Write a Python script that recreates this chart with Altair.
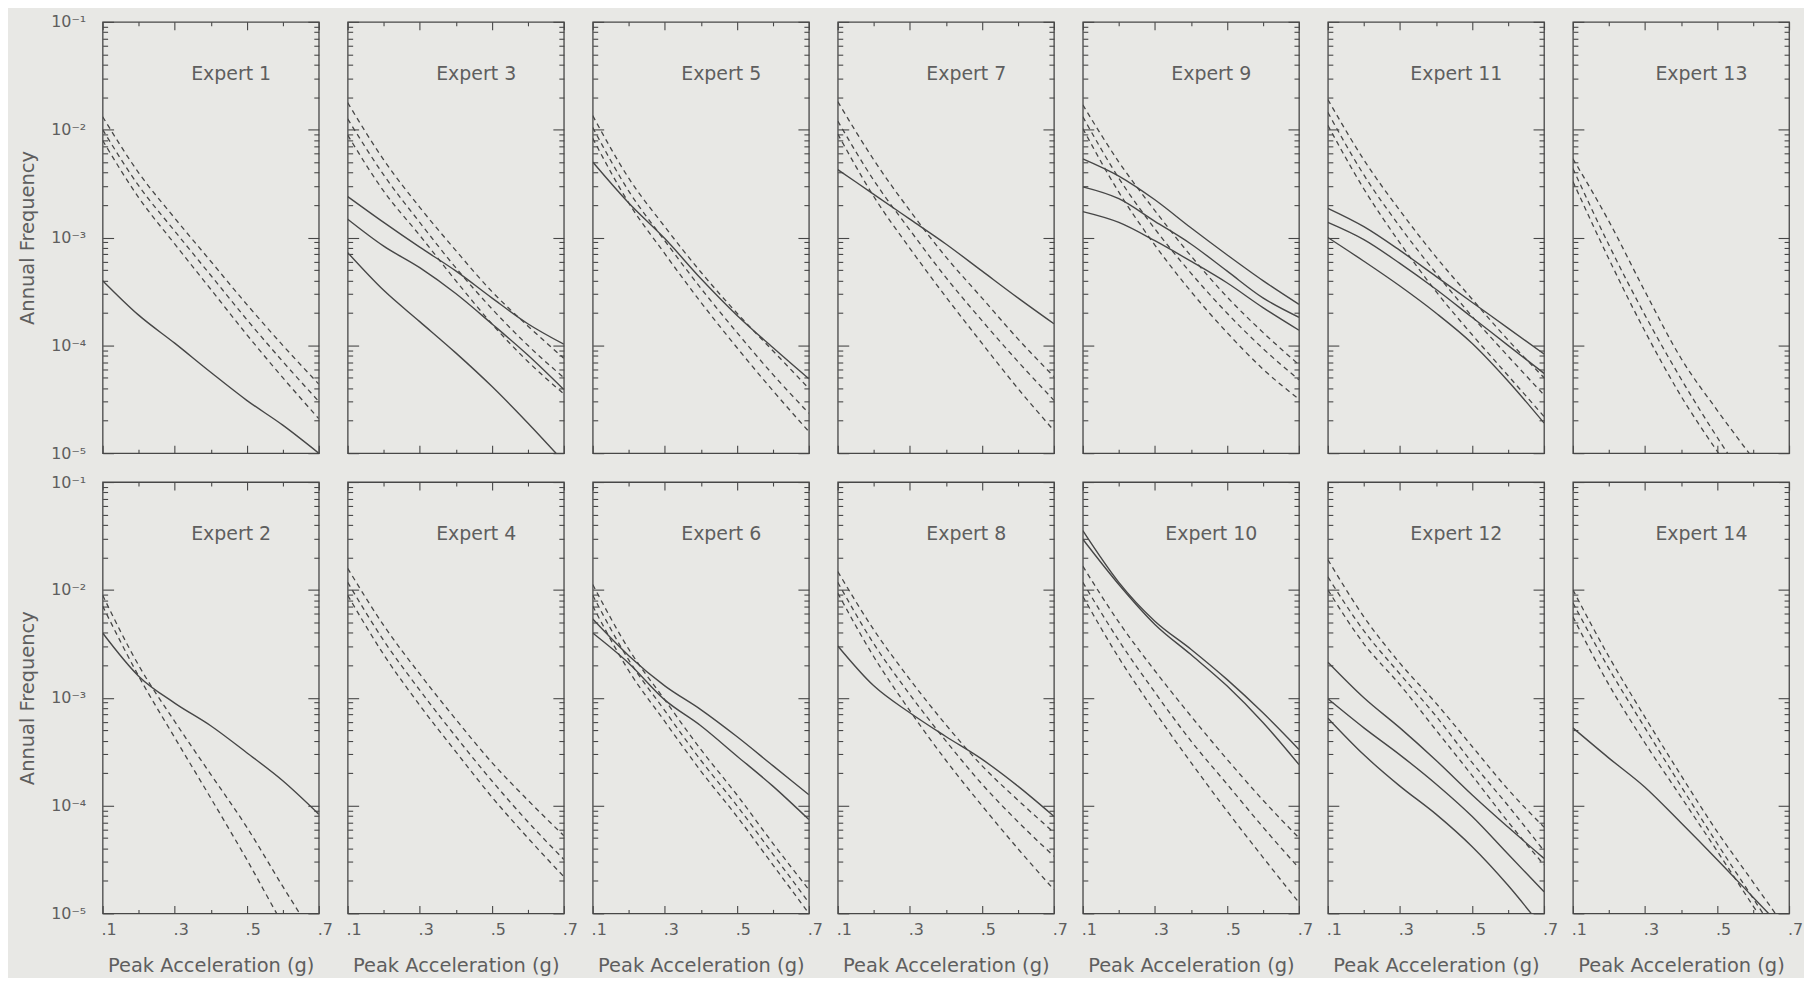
import altair as alt
import pandas as pd

# Peak acceleration (g) at which each curve was read
X_PGA = [0.1, 0.2, 0.3, 0.4, 0.5, 0.6, 0.7]

# Curves, as log10(annual frequency) at X_PGA
E1_SOLID = [[-3.40, -3.72, -3.98, -4.25, -4.51, -4.74, -5.00]]
E1_DASHED = [[-1.88, -2.40, -2.82, -3.22, -3.62, -4.00, -4.36],
             [-2.00, -2.52, -2.94, -3.35, -3.76, -4.15, -4.52],
             [-2.10, -2.63, -3.06, -3.48, -3.90, -4.30, -4.68]]

E2_SOLID = [[-2.40, -2.80, -3.05, -3.26, -3.51, -3.77, -4.08]]
E2_DASHED = [[-2.05, -2.70, -3.22, -3.71, -4.20, -4.75, -5.28],
             [-2.15, -2.80, -3.37, -3.93, -4.50, -5.10, -5.65]]

E3_SOLID = [[-2.62, -2.86, -3.09, -3.31, -3.56, -3.80, -3.99],
            [-2.83, -3.08, -3.28, -3.52, -3.80, -4.09, -4.41],
            [-3.14, -3.49, -3.78, -4.07, -4.38, -4.72, -5.08]]
E3_DASHED = [[-1.75, -2.28, -2.72, -3.12, -3.50, -3.82, -4.12],
             [-1.90, -2.42, -2.86, -3.28, -3.66, -4.00, -4.30],
             [-2.05, -2.57, -2.98, -3.40, -3.80, -4.15, -4.45]]

E4_SOLID = []
E4_DASHED = [[-1.80, -2.33, -2.78, -3.20, -3.60, -3.95, -4.28],
             [-1.93, -2.47, -2.93, -3.36, -3.77, -4.15, -4.50],
             [-2.05, -2.60, -3.07, -3.50, -3.92, -4.30, -4.66]]

E5_SOLID = [[-2.30, -2.68, -3.01, -3.38, -3.72, -4.02, -4.31]]
E5_DASHED = [[-1.87, -2.45, -2.90, -3.32, -3.70, -4.05, -4.40],
             [-1.98, -2.57, -3.03, -3.47, -3.88, -4.27, -4.63],
             [-2.08, -2.68, -3.15, -3.60, -4.02, -4.42, -4.80]]

E6_SOLID = [[-2.27, -2.61, -2.89, -3.11, -3.36, -3.63, -3.90],
            [-2.40, -2.68, -3.02, -3.26, -3.54, -3.82, -4.13]]
E6_DASHED = [[-1.95, -2.55, -3.02, -3.48, -3.90, -4.35, -4.78],
             [-2.05, -2.65, -3.12, -3.58, -4.00, -4.45, -4.90],
             [-2.15, -2.75, -3.22, -3.68, -4.10, -4.55, -5.00]]

E7_SOLID = [[-2.37, -2.60, -2.83, -3.06, -3.31, -3.56, -3.80]]
E7_DASHED = [[-1.74, -2.28, -2.75, -3.18, -3.56, -3.94, -4.29],
             [-1.92, -2.47, -2.93, -3.37, -3.77, -4.15, -4.51],
             [-2.04, -2.62, -3.10, -3.55, -3.98, -4.40, -4.79]]

E8_SOLID = [[-2.52, -2.89, -3.14, -3.36, -3.57, -3.82, -4.10]]
E8_DASHED = [[-1.83, -2.37, -2.83, -3.25, -3.63, -3.95, -4.25],
             [-1.93, -2.50, -2.97, -3.40, -3.80, -4.15, -4.47],
             [-2.03, -2.62, -3.12, -3.58, -4.00, -4.40, -4.78]]

E9_SOLID = [[-2.27, -2.43, -2.65, -2.91, -3.16, -3.40, -3.62],
            [-2.53, -2.64, -2.85, -3.06, -3.31, -3.56, -3.74],
            [-2.76, -2.86, -3.03, -3.22, -3.42, -3.65, -3.86]]
E9_DASHED = [[-1.77, -2.30, -2.75, -3.17, -3.55, -3.88, -4.18],
             [-1.88, -2.45, -2.92, -3.33, -3.70, -4.03, -4.32],
             [-1.99, -2.58, -3.07, -3.50, -3.88, -4.22, -4.50]]

E10_SOLID = [[-1.45, -1.93, -2.29, -2.55, -2.83, -3.14, -3.48],
             [-1.53, -1.95, -2.32, -2.60, -2.89, -3.23, -3.62]]
E10_DASHED = [[-1.78, -2.30, -2.75, -3.17, -3.57, -3.95, -4.30],
              [-1.93, -2.47, -2.95, -3.40, -3.80, -4.20, -4.58],
              [-2.06, -2.63, -3.13, -3.60, -4.05, -4.48, -4.90]]

E11_SOLID = [[-2.73, -2.90, -3.12, -3.36, -3.60, -3.84, -4.08],
             [-2.86, -3.02, -3.24, -3.48, -3.74, -4.00, -4.26],
             [-3.00, -3.22, -3.45, -3.70, -3.98, -4.33, -4.72]]
E11_DASHED = [[-1.72, -2.28, -2.75, -3.18, -3.57, -3.95, -4.30],
              [-1.84, -2.42, -2.90, -3.33, -3.73, -4.10, -4.46],
              [-1.96, -2.55, -3.05, -3.50, -3.90, -4.28, -4.66]]

E12_SOLID = [[-2.67, -3.00, -3.28, -3.58, -3.90, -4.20, -4.49],
             [-3.01, -3.28, -3.53, -3.80, -4.10, -4.45, -4.80],
             [-3.19, -3.53, -3.82, -4.08, -4.38, -4.74, -5.15]]
E12_DASHED = [[-1.72, -2.25, -2.68, -3.05, -3.45, -3.85, -4.20],
              [-1.88, -2.38, -2.78, -3.17, -3.60, -4.00, -4.42],
              [-2.00, -2.50, -2.88, -3.30, -3.72, -4.15, -4.55]]

E13_SOLID = []
E13_DASHED = [[-2.27, -2.85, -3.50, -4.12, -4.60, -5.05, -5.50],
              [-2.36, -3.07, -3.72, -4.31, -4.85, -5.35, -5.80],
              [-2.48, -3.20, -3.87, -4.47, -4.98, -5.45, -5.90]]

E14_SOLID = [[-3.28, -3.56, -3.83, -4.16, -4.50, -4.85, -5.20]]
E14_DASHED = [[-2.00, -2.62, -3.18, -3.72, -4.24, -4.71, -5.18],
              [-2.12, -2.73, -3.28, -3.82, -4.35, -4.86, -5.37],
              [-2.25, -2.88, -3.42, -3.92, -4.42, -4.93, -5.43]]

TOP_ROW = [1, 3, 5, 7, 9, 11, 13]
BOTTOM_ROW = [2, 4, 6, 8, 10, 12, 14]
X_TICKS = [0.1, 0.2, 0.3, 0.4, 0.5, 0.6, 0.7]
Y_TICKS = [k * 10.0 ** e for e in (-5, -4, -3, -2) for k in range(1, 10)] + [0.1]

CURVES = {
    1: (E1_SOLID, E1_DASHED), 2: (E2_SOLID, E2_DASHED), 3: (E3_SOLID, E3_DASHED),
    4: (E4_SOLID, E4_DASHED), 5: (E5_SOLID, E5_DASHED), 6: (E6_SOLID, E6_DASHED),
    7: (E7_SOLID, E7_DASHED), 8: (E8_SOLID, E8_DASHED), 9: (E9_SOLID, E9_DASHED),
    10: (E10_SOLID, E10_DASHED), 11: (E11_SOLID, E11_DASHED), 12: (E12_SOLID, E12_DASHED),
    13: (E13_SOLID, E13_DASHED), 14: (E14_SOLID, E14_DASHED),
}

rows = []
for n, (solids, dashes) in CURVES.items():
    for style, group in (("solid", solids), ("dashed", dashes)):
        for i, series in enumerate(group):
            for x, v in zip(X_PGA, series):
                rows.append({"expert": n, "style": style, "line": f"{style}{i}",
                             "x": x, "y": 10.0 ** v})
df = pd.DataFrame(rows)

W, H = 217, 433
INK = "#474747"
TXT = "#5e5e5e"

XS = alt.Scale(domain=[0.1, 0.7], nice=False, zero=False)
YS = alt.Scale(type="log", domain=[1e-5, 1e-1], nice=False)

LOGV = "log(datum.value)/LN10"
Y_MAJOR = f"abs({LOGV} - round({LOGV})) < 0.01"
X_MAJOR = "round(datum.value*10) % 2 == 1"
Y_TSIZE = {"condition": {"test": Y_MAJOR, "value": -11}, "value": -5}
X_TSIZE = {"condition": {"test": X_MAJOR, "value": -8}, "value": -4}
Y_LABEL = (f"{Y_MAJOR} ? ('10' + (round({LOGV}) == -1 ? '⁻¹' : round({LOGV}) == -2 ? '⁻²' : "
           f"round({LOGV}) == -3 ? '⁻³' : round({LOGV}) == -4 ? '⁻⁴' : '⁻⁵')) : ''")
X_LABEL = f"{X_MAJOR} ? '.' + round(datum.value*10) : ''"


def panel(n, first_col, bottom):
    d = df[df.expert == n]
    dd = d[d["style"] == "dashed"]
    ds = d[d["style"] == "solid"]
    xaxis = alt.Axis(values=X_TICKS, tickSize=X_TSIZE, labels=bottom, labelExpr=X_LABEL,
                     labelFlush=False, labelOverlap=False, labelPadding=16, labelOffset=6,
                     title="Peak Acceleration (g)" if bottom else None, titlePadding=15,
                     domain=False, grid=False)
    yaxis = alt.Axis(values=Y_TICKS, tickSize=Y_TSIZE, labels=first_col, labelExpr=Y_LABEL,
                     labelFlush=False, labelOverlap=False, labelPadding=28,
                     title="Annual Frequency" if first_col else None, titlePadding=13,
                     domain=False, grid=False)
    dashed = alt.Chart(dd).mark_line(
        clip=True, interpolate="monotone", strokeDash=[5, 4], strokeWidth=1.3, color=INK
    ).encode(
        x=alt.X("x:Q", scale=XS, axis=xaxis),
        y=alt.Y("y:Q", scale=YS, axis=yaxis),
        detail="line:N",
    )
    solid = alt.Chart(ds).mark_line(
        clip=True, interpolate="monotone", strokeWidth=1.4, color=INK
    ).encode(
        x=alt.X("x:Q", scale=XS, axis=None),
        y=alt.Y("y:Q", scale=YS, axis=None),
        detail="line:N",
    )
    frame = alt.Chart(dd).mark_line(strokeOpacity=0, clip=True).encode(
        x=alt.X("x:Q", scale=XS, axis=alt.Axis(orient="top", values=X_TICKS, tickSize=X_TSIZE,
                                                 labels=False, title=None, domain=False, grid=False)),
        y=alt.Y("y:Q", scale=YS, axis=alt.Axis(orient="right", values=Y_TICKS, tickSize=Y_TSIZE,
                                                 labels=False, title=None, domain=False, grid=False)),
        detail="line:N",
    )
    label = alt.Chart(pd.DataFrame({"label": [f"Expert {n}"]})).mark_text(
        font="DejaVu Sans", fontSize=19, color=TXT, align="center", baseline="middle"
    ).encode(x=alt.value(129), y=alt.value(52), text="label:N")
    return alt.layer(dashed, solid, frame, label).resolve_axis(
        x="independent", y="independent"
    ).properties(width=W, height=H)


panels = ([panel(n, i == 0, False) for i, n in enumerate(TOP_ROW)]
          + [panel(n, i == 0, True) for i, n in enumerate(BOTTOM_ROW)])

chart = alt.concat(*panels, columns=7, spacing=29, bounds="flush").properties(
    padding={"left": 9, "top": 3, "right": 0, "bottom": 0}
).configure(
    background="#e8e8e5"
).configure_view(
    stroke=INK, strokeWidth=1.3
).configure_axis(
    labelFont="DejaVu Sans", labelFontSize=16, labelColor=TXT,
    titleFont="DejaVu Sans", titleFontSize=19.5, titleFontWeight="normal", titleColor=TXT,
    tickColor=INK, tickWidth=1.1,
)

chart.save("out.html", embed_options={"renderer": "svg", "actions": False})
